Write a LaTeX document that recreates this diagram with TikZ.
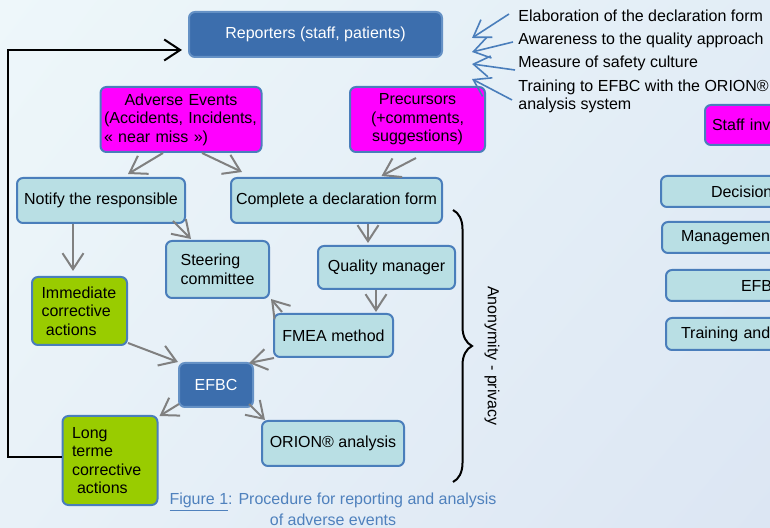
\documentclass[tikz,border=0pt]{standalone}
\usepackage{fontspec}
\setmainfont{Liberation Sans}
\usetikzlibrary{arrows.meta,positioning,decorations.pathreplacing,shadings}
\definecolor{boxblue}{HTML}{4A7EBB}
\definecolor{deepblue}{HTML}{3C6EAD}
\definecolor{paleteal}{HTML}{B9DFE4}
\definecolor{limegreen}{HTML}{99CC00}
\definecolor{magentabox}{HTML}{FF00FF}
\definecolor{arrowgrey}{HTML}{808080}
\definecolor{capblue}{HTML}{4F81BD}
\definecolor{bgul}{HTML}{EEF7FA}
\definecolor{bgur}{HTML}{E2EDF6}
\definecolor{bgll}{HTML}{E8F1F8}
\definecolor{bglr}{HTML}{DCE6F3}

\begin{document}
\begin{tikzpicture}[
  x=0.5pt,y=-0.5pt,
  txt/.style={font=\fontsize{8}{9.3}\selectfont},
  box/.style={txt,draw=boxblue,line width=1pt,rounded corners=3pt,align=center,inner sep=2pt},
  hub/.style={box,fill=deepblue,draw=boxblue!85!white,text=white},
  event/.style={box,fill=magentabox},
  task/.style={box,fill=paleteal},
  act/.style={box,fill=limegreen,align=left,text width=38pt,inner xsep=4.75pt},
  partial/.style={box,anchor=west,align=left,text width=60pt},
  flow/.style={-{Straight Barb[length=8pt,width=10.5pt]},line width=1pt,draw=arrowgrey},
  loopback/.style={-{Straight Barb[length=8pt,width=10.5pt]},line width=1pt},
  note/.style={txt,inner sep=0pt,anchor=west,align=left},
  cue/.style={-{Straight Barb[length=8pt,width=10.5pt]},line width=0.8pt,draw=boxblue}
]
\useasboundingbox (0,0) rectangle (770,528);
\clip (0,0) rectangle (770,528);
\shade[upper left=bgul,upper right=bgur,lower left=bgll,lower right=bglr] (0,0) rectangle (770,528);

\node[hub,minimum width=126.5pt,minimum height=22.5pt] (rep) at (315.5,34.5) {Reporters (staff, patients)};
\node[event,align=left,text width=77pt,inner xsep=1.75pt,minimum height=32.5pt] (ae) at (181,119.5)
  {\hfill Adverse Events\hfill\null\\(Accidents, Incidents,\\« near miss »)};
\node[event,minimum width=67.5pt,minimum height=32.5pt] (pre) at (417.5,119.5) {Precursors\\(+comments,\\suggestions)};
\node[task,minimum width=84pt,minimum height=22.5pt] (ntf) at (101,200.5) {Notify the responsible};
\node[task,minimum width=105.5pt,minimum height=22.5pt] (cdf) at (336.5,200.5) {Complete a declaration form};
\node[task,align=left,minimum width=51.5pt,minimum height=28.5pt] (stc) at (217.5,269.5) {Steering\\committee};
\node[task,minimum width=68.5pt,minimum height=21.5pt] (qm) at (386.5,267.5) {Quality manager};
\node[act,minimum height=34pt] (ica) at (79.5,311) {Immediate\\corrective\\\hspace*{2.2pt}actions};
\node[task,minimum width=59.5pt,minimum height=21.5pt] (fmea) at (333.5,335.5) {FMEA method};
\node[hub,minimum width=37pt,minimum height=22pt] (efbc) at (216,385) {EFBC};
\node[act,minimum height=44.5pt] (ltca) at (110,460.5) {Long\\terme\\corrective\\\hspace*{2.5pt}actions};
\node[task,minimum width=71pt,minimum height=22.5pt] (orion) at (333,443.5) {ORION® analysis};

\node[partial,fill=magentabox,inner xsep=3.5pt,minimum height=20pt] (staff) at (704,125) {Staff inv};
\node[partial,fill=paleteal,inner xsep=25pt,minimum height=15.5pt] (dec) at (660,191.5) {Decision};
\node[partial,fill=paleteal,inner xsep=9.5pt,minimum height=15.5pt] (mgmt) at (661,237.5) {Managemen};
\node[partial,fill=paleteal,inner xsep=37.5pt,minimum height=15.5pt] (efb) at (665,285.5) {EFB};
\node[partial,fill=paleteal,inner xsep=7.5pt,minimum height=16pt] (trn) at (665,334) {Training and};

\node[note] (t1) at (518,16) {Elaboration of the declaration form};
\node[note] (t2) at (518,40) {Awareness to the quality approach};
\node[note] (t3) at (518,63) {Measure of safety culture};
\node[note] (t4) at (518,96.5) {Training to EFBC with the ORION®\\analysis system};
\coordinate (aw1) at (472,38);
\coordinate (aw2) at (472,52);
\coordinate (aw3) at (472,64);
\coordinate (aw4) at (472,79);
\draw[cue] ([xshift=-4.5pt,yshift=1pt]t1.west) -- (aw1);
\draw[cue] ([xshift=-2.5pt,yshift=-1pt]t2.west) -- (aw2);
\draw[cue] ([xshift=-1.5pt,yshift=-3.5pt]t3.west) -- (aw3);
\draw[cue] ([xshift=-3pt,yshift=-1.75pt]t4.west) -- (aw4);

\draw[flow] ([xshift=-9pt]ae.south) -- ([xshift=13.5pt,yshift=1.5pt]ntf.north);
\draw[flow] ([xshift=10.5pt]ae.south) -- ([xshift=6pt,yshift=2.5pt]cdf.north west);
\draw[flow] ([xshift=-0.75pt,yshift=-2.5pt]pre.south) -- ([xshift=22.5pt,yshift=0.5pt]cdf.north);
\draw[flow] ([xshift=-6.5pt,yshift=1.5pt]ntf.south east) -- ([xshift=13pt,yshift=0.5pt]stc.north west);
\draw[flow] ([xshift=-14pt]ntf.south) -- ([xshift=-3.25pt,yshift=2.5pt]ica.north);
\draw[flow] ([xshift=15.75pt]cdf.south) -- ([xshift=-9.25pt,yshift=1pt]qm.north);
\draw[flow] ([xshift=-5.25pt]qm.south) -- ([xshift=21.25pt,yshift=0.5pt]fmea.north);
\draw[flow] ([xshift=4.5pt,yshift=0.5pt]fmea.north west) -- ([xshift=0.5pt]stc.south east);
\draw[flow] ([yshift=1.5pt]ica.south east) -- (efbc.north west);
\draw[flow] ([xshift=0.5pt]fmea.south west) -- ([xshift=-2.5pt,yshift=-0.5pt]efbc.north east);
\draw[flow] ([xshift=0.5pt,yshift=2pt]efbc.south west) -- ([xshift=0.5pt,yshift=-0.5pt]ltca.north east);
\draw[flow] ([xshift=-2.5pt,yshift=2pt]efbc.south east) -- ([xshift=2pt]orion.north west);

\coordinate (fbtop) at (8,50);
\draw[loopback] ([yshift=1.5pt]ltca.west) -| (fbtop) -- ([xshift=-3pt,yshift=-7.75pt]rep.west);

\coordinate (brtop) at (453,210);
\coordinate (brbot) at (453,482);
\draw[line width=1pt,decorate,decoration={brace,amplitude=9.5pt}] (brtop) -- (brbot);
\node[txt,rotate=-90] (anon) at (492,356) {Anonymity - privacy};

\node[txt,text=capblue,align=center,inner sep=0pt,font=\fontsize{8}{9}\selectfont] (cap) at (333,509)
  {\underline{Figure 1}: Procedure for reporting and analysis\\of adverse events};
\end{tikzpicture}
\end{document}
